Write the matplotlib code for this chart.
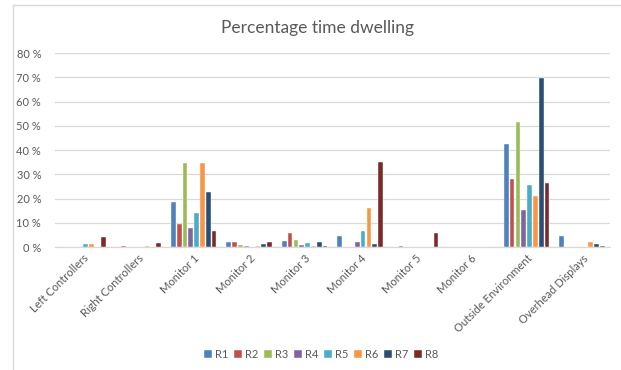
import numpy as np
import matplotlib
matplotlib.use("Agg")
import matplotlib.pyplot as plt
from matplotlib.lines import Line2D

plt.rcParams['font.family'] = ['Lato', 'DejaVu Sans']

# Share of dwell time per area of interest, one series per run
categories = ['Left Controllers', 'Right Controllers', 'Monitor 1', 'Monitor 2',
              'Monitor 3', 'Monitor 4', 'Monitor 5', 'Monitor 6',
              'Outside Environment', 'Overhead Displays']
series_names = ['R1', 'R2', 'R3', 'R4', 'R5', 'R6', 'R7', 'R8']

R1 = [0.0, 0.0, 18.5, 2.0, 2.5, 4.7, 0.0, 0.0, 42.4, 4.4]
R2 = [0.0, 0.4, 9.6, 2.0, 5.7, 0.0, 0.6, 0.0, 28.1, 0.0]
R3 = [0.0, 0.0, 34.7, 0.8, 2.8, 0.0, 0.0, 0.0, 51.5, 0.0]
R4 = [0.0, 0.0, 7.7, 0.4, 0.8, 2.0, 0.0, 0.0, 15.2, 0.0]
R5 = [1.2, 0.0, 13.9, 0.0, 1.7, 6.7, 0.0, 0.0, 25.8, 0.0]
R6 = [1.2, 0.4, 34.7, 0.4, 0.5, 16.0, 0.0, 0.0, 21.2, 2.0]
R7 = [0.0, 0.0, 22.6, 1.2, 2.0, 1.2, 0.0, 0.0, 69.7, 1.2]
R8 = [4.0, 1.7, 6.5, 2.1, 0.5, 35.0, 5.8, 0.0, 26.3, 0.6]
values = [R1, R2, R3, R4, R5, R6, R7, R8]

colors = ['#4F81BD', '#C0504D', '#9BBB59', '#8064A2',
          '#4BACC6', '#F79646', '#2C4D75', '#772C2A']

fig = plt.figure(figsize=(6.21, 3.70), dpi=100)
ax = fig.add_axes([0.0886, 0.3324, 0.8934, 0.5236])

x = np.arange(len(categories))
step = 0.105
width = 0.085
for i, (name, vals) in enumerate(zip(series_names, values)):
    offset = (i - 3.5) * step
    ax.bar(x + offset, vals, width=width, color=colors[i], label=name,
           edgecolor='white', linewidth=0.3, zorder=3)

ax.set_xlim(-0.5, len(categories) - 0.5)
ax.set_ylim(0, 80)
ax.set_yticks(np.arange(0, 81, 10))
ax.set_yticklabels([f'{v} %' for v in range(0, 81, 10)])
ax.yaxis.grid(True, color='#D9D9D9', linewidth=0.9, zorder=0)
ax.tick_params(axis='y', length=0, labelsize=8, labelcolor='#595959', pad=10)
ax.tick_params(axis='x', length=0, labelsize=8, labelcolor='#595959', pad=4)
ax.set_xticks(x)
ax.set_xticklabels(categories, rotation=45, ha='right', rotation_mode='anchor')
for s in ['top', 'right', 'left']:
    ax.spines[s].set_visible(False)
ax.spines['bottom'].set_color('#D9D9D9')
ax.spines['bottom'].set_linewidth(0.9)

fig.text(0.512, 0.925, 'Percentage time dwelling', ha='center', va='center',
         fontsize=12.5, color='#595959')

fig.legend(loc='center', bbox_to_anchor=(0.517, 0.043), ncol=8, frameon=False,
           fontsize=8, handlelength=0.7, handleheight=0.7, handletextpad=0.25,
           columnspacing=0.55, labelcolor='#595959')

# chart frame edges
fig.add_artist(Line2D([13 / 621, 13 / 621], [0, 1 - 5 / 370],
                      transform=fig.transFigure, color='#D9D9D9', linewidth=1))
fig.add_artist(Line2D([13 / 621, 1], [1 - 5 / 370, 1 - 5 / 370],
                      transform=fig.transFigure, color='#D9D9D9', linewidth=1))

fig.savefig('out.png', dpi=100)
